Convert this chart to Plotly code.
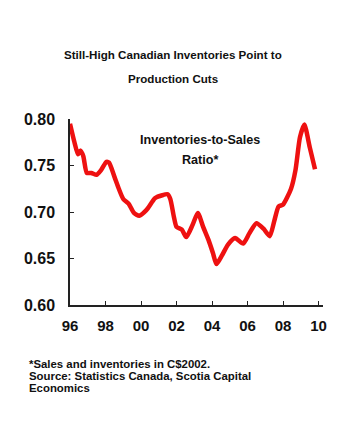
import plotly.graph_objects as go

# Data (decimal years, ratio)
years = [1996.0, 1996.25, 1996.45, 1996.6, 1996.75, 1996.95, 1997.2, 1997.5, 1997.75,
         1998.05, 1998.2, 1998.5, 1998.75, 1999.0, 1999.3, 1999.6, 1999.9, 2000.3,
         2000.8, 2001.2, 2001.5, 2001.65, 2001.85, 2002.0, 2002.3, 2002.55, 2002.9,
         2003.2, 2003.5, 2003.8, 2004.05, 2004.25, 2004.55, 2004.9, 2005.3, 2005.75,
         2006.1, 2006.5, 2006.9, 2007.25, 2007.5, 2007.75, 2008.0, 2008.45, 2008.7,
         2008.95, 2009.2, 2009.5, 2009.8]
ratio = [0.795, 0.775, 0.762, 0.766, 0.760, 0.742, 0.742, 0.740, 0.745,
         0.754, 0.753, 0.738, 0.725, 0.714, 0.709, 0.699, 0.696, 0.702,
         0.715, 0.718, 0.719, 0.714, 0.695, 0.684, 0.681, 0.673, 0.686,
         0.699, 0.684, 0.670, 0.656, 0.644, 0.653, 0.665, 0.672, 0.666,
         0.677, 0.688, 0.682, 0.674, 0.690, 0.706, 0.708, 0.725, 0.745,
         0.780, 0.794, 0.770, 0.746]

x_tickvals = [1996, 1998, 2000, 2002, 2004, 2006, 2008, 2010]
x_ticktext = ["96", "98", "00", "02", "04", "06", "08", "10"]
y_tickvals = [0.60, 0.65, 0.70, 0.75, 0.80]
y_ticktext = ["0.60", "0.65", "0.70", "0.75", "0.80"]

FONT = "Liberation Sans, Arial, sans-serif"

fig = go.Figure()
fig.add_trace(go.Scatter(
    x=years, y=ratio, mode="lines",
    line=dict(color="#ee1111", width=4.5, shape="spline", smoothing=0.6),
    cliponaxis=False, hoverinfo="skip", showlegend=False,
))

fig.update_layout(
    width=350, height=434,
    margin=dict(l=70, r=27, t=119, b=129),
    paper_bgcolor="white", plot_bgcolor="white",
    font=dict(family=FONT, color="#111"),
    xaxis=dict(
        range=[1996, 2010.25], tickvals=x_tickvals,
        ticktext=["<b>%s</b>" % t for t in x_ticktext],
        tickfont=dict(size=15, color="#111"),
        showline=True, linecolor="#222", linewidth=1.5,
        ticks="inside", ticklen=4, tickcolor="#222", tickwidth=1,
        showgrid=False, zeroline=False, ticklabelstandoff=6,
    ),
    yaxis=dict(
        range=[0.60, 0.80], tickvals=y_tickvals,
        ticktext=["<b>%s</b>" % t for t in y_ticktext],
        tickfont=dict(size=16, color="#111"),
        showline=True, linecolor="#222", linewidth=1.5,
        ticks="inside", ticklen=4, tickcolor="#222", tickwidth=1,
        showgrid=False, zeroline=False, ticklabelstandoff=10,
    ),
)

def txt(x, y, s, size, bold=True, xanchor="center"):
    fig.add_annotation(
        xref="paper", yref="paper", x=x, y=y,
        text=("<b>%s</b>" % s) if bold else s,
        showarrow=False, xanchor=xanchor, yanchor="middle",
        font=dict(family=FONT, size=size, color="#111"),
    )

pl, pr, pt, pb = 70, 323, 119, 305

def px(xp):
    return (xp - pl) / (pr - pl)

def py(yp):
    return (pb - yp) / (pb - pt)

txt(px(173), py(54), "Still-High Canadian Inventories Point to", 11.6)
txt(px(173), py(78), "Production Cuts", 11.6)
txt(px(200), py(140), "Inventories-to-Sales", 12.6)
txt(px(200), py(160), "Ratio*", 12.6)
txt(px(27), py(364), "*Sales and inventories in C$2002.", 11.4, xanchor="left")
txt(px(27), py(376), "Source: Statistics Canada, Scotia Capital", 11.4, xanchor="left")
txt(px(27), py(388), "Economics", 11.4, xanchor="left")

fig.write_html("out.html")
